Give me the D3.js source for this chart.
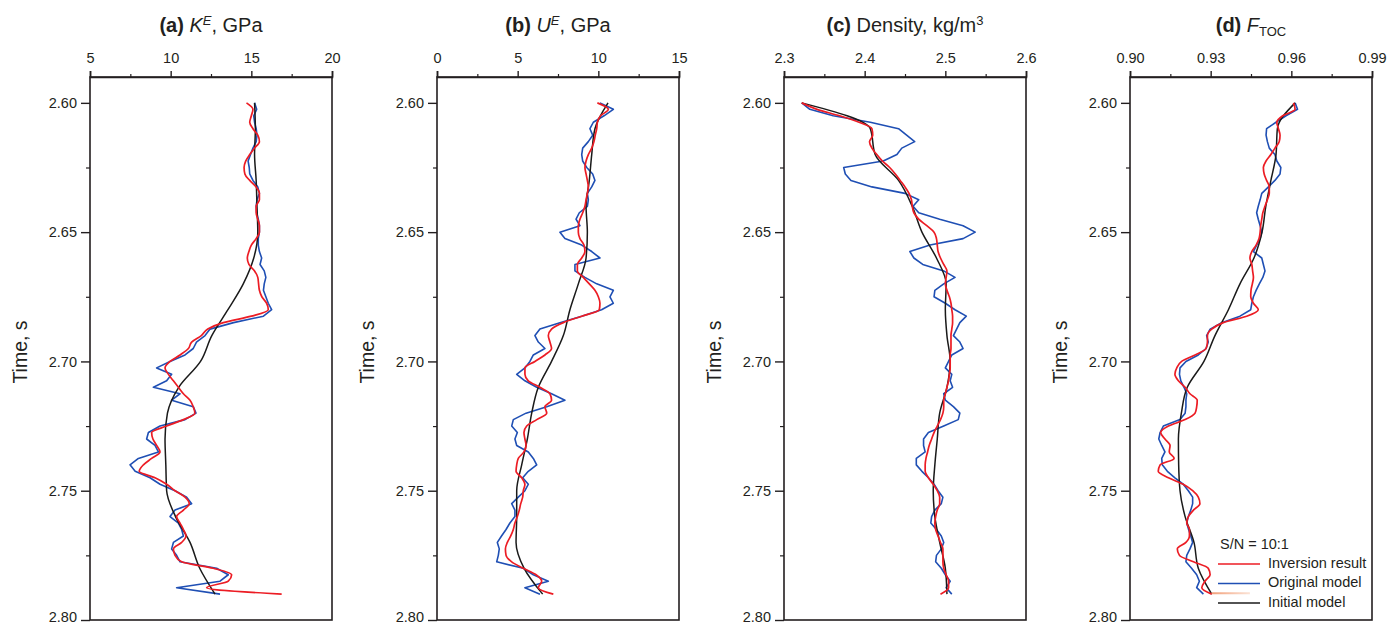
<!DOCTYPE html>
<html>
<head>
<meta charset="utf-8">
<script src="https://cdn.jsdelivr.net/npm/d3@7"></script>
<style>
  body { margin: 0; background: #fff; }
  text { font-family: "Liberation Sans", Arial, sans-serif; fill: #231f20; }
</style>
</head>
<body>
<div id="chart"></div>
<script>
// time samples (s): fine grid for inversion / original, coarse for initial model
const timeFine = d3.range(77).map(i => +(2.6 + i * 0.0025).toFixed(4))
const timeCoarse = d3.range(20).map(i => +(2.6 + i * 0.01).toFixed(2))

// (a) K^E, GPa
const kRed = [14.7, 15.1, 15.0, 14.9, 15.1, 15.4, 15.5, 15.2, 14.9, 14.65,
  14.55, 14.6, 14.9, 15.3, 15.5, 15.5, 15.3, 15.3, 15.4, 15.5,
  15.5, 15.3, 15.0, 14.85, 14.75, 14.85, 15.2, 15.4, 15.45, 15.5,
  15.65, 15.95, 16.05, 15.0, 13.26, 12.3, 11.9, 11.3, 11.1, 10.58, 9.96,
  9.65, 9.86, 10.17, 10.48, 10.79, 11.2, 11.4, 11.5, 10.79, 9.75,
  8.82, 8.9, 9.13, 9.34, 8.82, 8.31, 8.05, 9.03, 9.75, 10.27,
  10.89, 11.15, 10.79, 10.37, 10.58, 10.79, 10.95, 10.68, 10.17, 10.27,
  10.68, 12.64, 13.78, 13.57, 12.23, 16.88]
const kBlue = [15.2, 15.33, 15.15, 15.2, 15.3, 15.35, 15.3, 15.1, 14.95, 14.8,
  14.87, 14.9, 15.1, 15.4, 15.5, 15.35, 15.3, 15.33, 15.43, 15.5,
  15.5, 15.43, 15.43, 15.5, 15.64, 15.54, 15.8, 15.9, 15.8, 15.75,
  15.9, 16.05, 16.26, 15.75, 13.9, 12.44, 12.13, 11.6, 11.4, 10.89, 9.96,
  9.13, 10.06, 9.75, 8.93, 10.58, 10.06, 11.4, 11.57, 10.89, 9.34,
  8.62, 8.51, 9.03, 9.24, 8.0, 7.48, 7.8, 8.72, 9.34, 10.27,
  10.99, 11.3, 10.27, 9.96, 10.48, 10.68, 10.79, 10.17, 10.06, 10.37,
  10.58, 12.85, 13.57, 13.06, 10.37, 13.06]
const kInit = [15.2, 15.25, 15.2, 15.3, 15.35, 15.4, 15.15, 14.5, 13.55, 12.55,
  11.85, 10.5, 9.8, 9.65, 9.7, 9.75, 10.3, 11.2, 11.8, 12.75]

// (b) U^E, GPa
const uRed = [9.94, 10.62, 10.14, 9.94, 9.9, 9.81, 9.73, 9.59, 9.38, 9.24,
  9.17, 9.24, 9.32, 9.38, 9.32, 9.24, 9.17, 9.03, 8.86, 8.76,
  8.76, 8.86, 9.11, 9.17, 8.97, 8.7, 8.7, 9.07, 9.44, 9.79,
  10.0, 10.1, 10.06, 8.97, 7.83, 7.1, 6.9, 7.0, 7.1, 6.69, 6.07,
  5.45, 5.45, 5.66, 6.38, 7.0, 7.1, 6.69, 6.8, 6.18, 5.56,
  5.39, 5.45, 5.52, 5.39, 5.04, 4.94, 4.9, 5.25, 5.45, 5.35,
  5.31, 5.19, 5.1, 4.98, 4.83, 4.73, 4.57, 4.36, 4.24, 4.28,
  4.63, 5.35, 6.14, 6.49, 6.28, 7.21]
const uBlue = [10.1, 10.93, 10.35, 9.69, 9.48, 9.65, 9.38, 9.03, 8.97, 9.03,
  9.28, 9.65, 9.79, 9.59, 9.32, 9.38, 9.32, 8.82, 8.62, 8.86,
  7.62, 7.93, 8.97, 9.59, 10.1, 8.55, 8.55, 9.17, 9.9, 10.93,
  10.72, 10.93, 10.2, 8.97, 7.62, 6.38, 6.07, 6.28, 6.69, 5.97, 5.76,
  5.45, 4.94, 5.45, 6.18, 7.1, 7.93, 6.8, 5.52, 4.73, 4.63,
  4.98, 4.83, 4.94, 5.66, 5.97, 6.18, 5.66, 5.31, 5.66, 5.45,
  5.04, 4.63, 4.83, 4.83, 4.52, 4.28, 4.0, 3.74, 3.86, 3.8,
  3.7, 5.35, 5.97, 6.9, 5.45, 6.38]
const uInit = [10.6, 9.79, 9.59, 9.44, 9.24, 9.32, 9.24, 8.76, 8.24, 7.83,
  7.1, 6.28, 5.87, 5.6, 5.25, 4.94, 4.94, 4.9, 5.4, 6.55]

// (c) Density, kg/m3
const rhoRed = [2.322, 2.341, 2.369, 2.393, 2.409, 2.41, 2.406, 2.409, 2.415, 2.422,
  2.431, 2.438, 2.444, 2.45, 2.455, 2.458, 2.459, 2.461, 2.467, 2.477,
  2.486, 2.489, 2.49, 2.491, 2.494, 2.498, 2.502, 2.501, 2.5, 2.502,
  2.505, 2.507, 2.508, 2.509, 2.509, 2.508, 2.507, 2.507, 2.507, 2.506, 2.506,
  2.506, 2.505, 2.504, 2.502, 2.5, 2.498, 2.498, 2.497, 2.494, 2.49,
  2.486, 2.483, 2.48, 2.478, 2.476, 2.475, 2.475, 2.479, 2.485, 2.49,
  2.493, 2.493, 2.49, 2.488, 2.487, 2.488, 2.491, 2.494, 2.497, 2.497,
  2.497, 2.498, 2.501, 2.504, 2.504, 2.494]
const rhoBlue = [2.322, 2.332, 2.361, 2.407, 2.442, 2.452, 2.462, 2.446, 2.44, 2.423,
  2.374, 2.376, 2.383, 2.409, 2.45, 2.467, 2.46, 2.467, 2.493, 2.522,
  2.537, 2.522, 2.481, 2.456, 2.461, 2.472, 2.498, 2.512, 2.498, 2.487,
  2.486, 2.5, 2.512, 2.526, 2.518, 2.514, 2.51, 2.518, 2.522, 2.508, 2.504,
  2.5, 2.508, 2.506, 2.509, 2.498, 2.5, 2.51, 2.518, 2.516, 2.498,
  2.479, 2.473, 2.473, 2.475, 2.464, 2.464, 2.471, 2.479, 2.486, 2.491,
  2.497, 2.495, 2.487, 2.483, 2.482, 2.489, 2.495, 2.498, 2.495, 2.489,
  2.488, 2.495, 2.5, 2.506, 2.501, 2.508]
const rhoInit = [2.322, 2.407, 2.413, 2.442, 2.459, 2.471, 2.489, 2.501, 2.5, 2.502,
  2.506, 2.502, 2.493, 2.49, 2.487, 2.485, 2.487, 2.493, 2.5, 2.502]

// (d) F_TOC
const tocRed = [0.9608, 0.9614, 0.9568, 0.9546, 0.9552, 0.9558, 0.9555, 0.9539, 0.9524, 0.9506,
  0.9496, 0.9499, 0.9508, 0.9518, 0.9518, 0.9511, 0.9502, 0.9494, 0.949, 0.9486,
  0.9484, 0.948, 0.9469, 0.9453, 0.9446, 0.9453, 0.9456, 0.9459, 0.9455, 0.945,
  0.9449, 0.9459, 0.9477, 0.9434, 0.9347, 0.9304, 0.9288, 0.9288, 0.9283, 0.9242, 0.9192,
  0.9174, 0.9167, 0.918, 0.9205, 0.9223, 0.925, 0.9248, 0.9242, 0.9205, 0.9143,
  0.9114, 0.913, 0.9149, 0.9146, 0.9164, 0.9112, 0.9105, 0.9143, 0.9198, 0.9233,
  0.9254, 0.926, 0.9236, 0.9217, 0.9211, 0.9221, 0.9221, 0.9208, 0.9176, 0.9184,
  0.9236, 0.9291, 0.9298, 0.9279, 0.9267, 0.9304]
const tocBlue = [0.9614, 0.9623, 0.958, 0.9543, 0.9508, 0.9506, 0.9511, 0.9518, 0.9539, 0.9546,
  0.9561, 0.9558, 0.9539, 0.9515, 0.949, 0.9484, 0.9477, 0.9471, 0.9477, 0.9484,
  0.949, 0.9484, 0.9471, 0.9459, 0.949, 0.9496, 0.9502, 0.9494, 0.9481, 0.9469,
  0.9459, 0.9453, 0.9449, 0.9409, 0.9341, 0.9298, 0.9285, 0.9291, 0.9283, 0.9254, 0.9208,
  0.9186, 0.9184, 0.9189, 0.9201, 0.9211, 0.9208, 0.9208, 0.9205, 0.9186, 0.9124,
  0.9112, 0.9107, 0.9118, 0.913, 0.9118, 0.912, 0.9139, 0.9167, 0.9198, 0.9217,
  0.9233, 0.9233, 0.9226, 0.9217, 0.9211, 0.9218, 0.9226, 0.9233, 0.9223, 0.9211,
  0.9208, 0.9229, 0.9248, 0.9258, 0.9248, 0.9273]
const tocInit = [0.9614, 0.9548, 0.9543, 0.9524, 0.9505, 0.9491, 0.9461, 0.9409, 0.9366, 0.9316,
  0.9275, 0.9213, 0.9191, 0.918, 0.9181, 0.9186, 0.9205, 0.9238, 0.9254, 0.9304]
// faint tail of the inversion line at the bottom of (d)
const tocTail = [0.9304, 0.9446]
const tocTailTime = [2.79, 2.79]

const legendLabels = ['Inversion result', 'Original model', 'Initial model']
const colors = {red: '#ec1c24', blue: '#1f4fb4', black: '#1a1a1a'}

const panels = [
  {left: 90, domain: [5, 20], ticks: [5, 10, 15, 20], minor: [7.5, 12.5, 17.5], fmt: d3.format('d'),
   red: kRed, blue: kBlue, init: kInit, title: 'a'},
  {left: 437, domain: [0, 15], ticks: [0, 5, 10, 15], minor: [2.5, 7.5, 12.5], fmt: d3.format('d'),
   red: uRed, blue: uBlue, init: uInit, title: 'b'},
  {left: 784, domain: [2.3, 2.6], ticks: [2.3, 2.4, 2.5, 2.6], minor: [2.35, 2.45, 2.55], fmt: d3.format('.1f'),
   red: rhoRed, blue: rhoBlue, init: rhoInit, title: 'c'},
  {left: 1130, domain: [0.90, 0.99], ticks: [0.90, 0.93, 0.96, 0.99], minor: [0.915, 0.945, 0.975], fmt: d3.format('.2f'),
   red: tocRed, blue: tocBlue, init: tocInit, title: 'd'}
]

const width = 1394, height = 626
const panelW = 242
const plotTop = 77, plotBottom = 620

const y = d3.scaleLinear().domain([2.59, 2.80]).range([plotTop, plotBottom])
const timeTicks = [2.60, 2.65, 2.70, 2.75, 2.80]
const timeMinor = [2.625, 2.675, 2.725, 2.775]

const svg = d3.select('#chart')
  .append('svg')
    .attr('width', width)
    .attr('height', height)

panels.forEach(p => {
  const x = d3.scaleLinear().domain(p.domain).range([p.left, p.left + panelW])
  const g = svg.append('g')

  // box (right + bottom + left); top is the axis line
  g.append('rect')
    .attr('x', p.left).attr('y', plotTop)
    .attr('width', panelW).attr('height', plotBottom - plotTop)
    .attr('fill', 'none').attr('stroke', '#231f20').attr('stroke-width', 1.6)

  // top axis
  const xa = g.append('g').attr('transform', `translate(0,${plotTop})`)
    .call(d3.axisTop(x).tickValues(p.ticks).tickFormat(p.fmt).tickSize(6).tickPadding(8))
  xa.select('.domain').attr('stroke', '#231f20').attr('stroke-width', 1.6)
  xa.selectAll('.tick line').attr('stroke', '#231f20').attr('stroke-width', 1.4)
  xa.selectAll('.tick text').style('font-size', '14.5px').attr('fill', '#231f20')
  const xm = g.append('g').attr('transform', `translate(0,${plotTop})`)
    .call(d3.axisTop(x).tickValues(p.minor).tickFormat('').tickSize(3))
  xm.select('.domain').remove()
  xm.selectAll('.tick line').attr('stroke', '#231f20').attr('stroke-width', 1.2)

  // left axis
  const ya = g.append('g').attr('transform', `translate(${p.left},0)`)
    .call(d3.axisLeft(y).tickValues(timeTicks).tickFormat(d3.format('.2f')).tickSize(9).tickPadding(4))
  ya.select('.domain').remove()
  ya.selectAll('.tick line').attr('stroke', '#231f20').attr('stroke-width', 1.4)
  ya.selectAll('.tick text').style('font-size', '14.5px').attr('fill', '#231f20')
    // keep the lowest label inside the picture
    .attr('dy', d => d === 2.80 ? '0.12em' : '0.32em')
  const ym = g.append('g').attr('transform', `translate(${p.left},0)`)
    .call(d3.axisLeft(y).tickValues(timeMinor).tickFormat('').tickSize(4))
  ym.select('.domain').remove()
  ym.selectAll('.tick line').attr('stroke', '#231f20').attr('stroke-width', 1.2)

  // y label
  g.append('text')
    .attr('transform', `translate(${p.left - 68},352) rotate(-90)`)
    .attr('text-anchor', 'middle')
    .attr('dominant-baseline', 'middle')
    .style('font-size', '19.5px')
    .text('Time, s')

  // title
  const t = g.append('text')
    .attr('x', p.left + panelW / 2)
    .attr('y', 32)
    .attr('text-anchor', 'middle')
    .style('font-size', '20px')
  t.append('tspan').attr('font-weight', 'bold').text(`(${p.title})`)
  if (p.title === 'a' || p.title === 'b') {
    t.append('tspan').attr('font-style', 'italic').text(p.title === 'a' ? ' K' : ' U')
    t.append('tspan').attr('font-style', 'italic').style('font-size', '13px').attr('dy', -7.5).text('E')
    t.append('tspan').attr('dy', 7.5).text(', GPa')
  } else if (p.title === 'c') {
    t.append('tspan').text(' Density, kg/m')
    t.append('tspan').style('font-size', '13px').attr('dy', -7.5).text('3')
  } else {
    t.append('tspan').attr('font-style', 'italic').text(' F')
    t.append('tspan').style('font-size', '13px').attr('dy', 4).text('TOC')
  }

  const lineFine = d3.line()
    .x(d => x(d[1]))
    .y(d => y(d[0]))
  const lineSmooth = d3.line()
    .x(d => x(d[1]))
    .y(d => y(d[0]))
    .curve(d3.curveMonotoneY)

  const plot = g.append('g')
  plot.append('path')
    .datum(d3.zip(timeFine, p.blue))
    .attr('d', lineFine)
    .attr('fill', 'none').attr('stroke', colors.blue).attr('stroke-width', 1.6)
    .attr('stroke-linejoin', 'round')
  plot.append('path')
    .datum(d3.zip(timeCoarse, p.init))
    .attr('d', lineSmooth)
    .attr('fill', 'none').attr('stroke', colors.black).attr('stroke-width', 1.5)
  plot.append('path')
    .datum(d3.zip(timeFine, p.red))
    .attr('d', lineSmooth)
    .attr('fill', 'none').attr('stroke', colors.red).attr('stroke-width', 1.7)

  if (p.title === 'd') {
    const grad = svg.append('defs').append('linearGradient')
      .attr('id', 'tail').attr('gradientUnits', 'userSpaceOnUse')
      .attr('x1', x(tocTail[0])).attr('x2', x(tocTail[1]))
    grad.append('stop').attr('offset', '0%').attr('stop-color', '#f2a07a')
    grad.append('stop').attr('offset', '100%').attr('stop-color', '#fbe3d6')
    plot.append('path')
      .datum(d3.zip(tocTailTime, tocTail))
      .attr('d', lineFine)
      .attr('fill', 'none').attr('stroke', 'url(#tail)').attr('stroke-width', 2)
      .attr('transform', 'translate(0,-1)')

    // legend
    const lg = g.append('g')
    lg.append('text')
      .attr('x', 1220).attr('y', 545)
      .attr('dominant-baseline', 'middle')
      .style('font-size', '14.5px')
      .text('S/N = 10:1')
    const rows = lg.selectAll('g.row')
      .data(legendLabels)
      .join('g')
        .attr('class', 'row')
        .attr('transform', (d, i) => `translate(0,${564 + i * 19.5})`)
    rows.append('line')
      .attr('x1', 1218).attr('x2', 1260)
      .attr('stroke', (d, i) => [colors.red, colors.blue, colors.black][i])
      .attr('stroke-width', 1.6)
    rows.append('text')
      .attr('x', 1268)
      .attr('dominant-baseline', 'middle')
      .style('font-size', '14.5px')
      .text(d => d)
  }
})
</script>
</body>
</html>
